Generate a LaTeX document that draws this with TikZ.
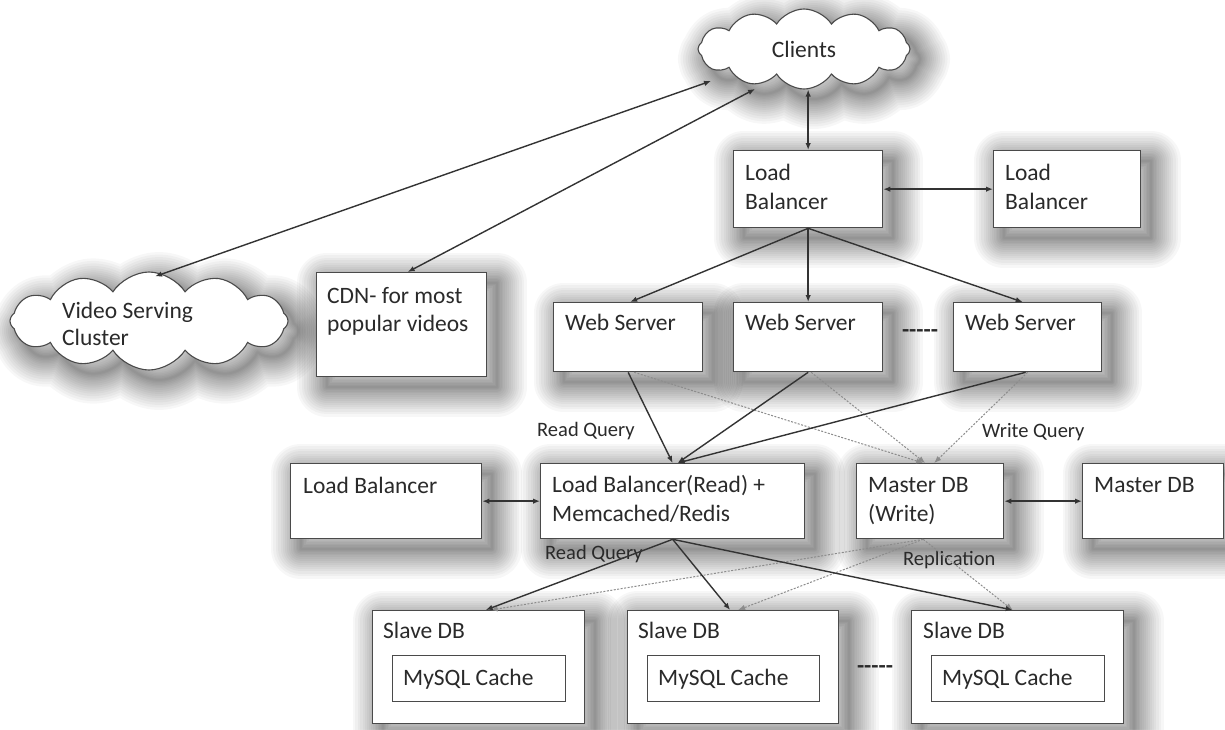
\documentclass[tikz,border=0pt]{standalone}
\usepackage{fontspec}
\setmainfont{Carlito}
\usetikzlibrary{arrows.meta,shapes.symbols,calc}
\definecolor{linec}{HTML}{333333}
\definecolor{boxc}{HTML}{4A4A4A}
\definecolor{dotc}{HTML}{8C8C8C}
\definecolor{txtc}{HTML}{2A2A2A}
\begin{document}
\begin{tikzpicture}[x=1pt,y=-1pt,
  sh/.style={preaction={draw=black,line join=round,opacity=0.032,line width=#1,transform canvas={shift={(10,10)}}}},
  softshadow/.style={sh=60pt,sh=55pt,sh=50pt,sh=45pt,sh=40pt,sh=36pt,sh=32pt,sh=28pt,sh=24pt,sh=20pt,sh=16pt,sh=13pt,sh=10pt,sh=7pt,sh=4pt,sh=2pt},
  box/.style={draw=boxc,line width=1.3pt,fill=white,rectangle,inner sep=0pt,anchor=north west,softshadow},
  inbox/.style={draw=boxc,line width=1.3pt,fill=white,rectangle,inner sep=0pt,anchor=north west},
  cloudnode/.style={cloud,cloud puffs=12,cloud puff arc=115,cloud ignores aspect,draw=boxc,line width=1.1pt,fill=white,inner sep=0pt,softshadow},
  txt/.style={font=\fontsize{23.5}{29}\selectfont,text=txtc,inner sep=0pt,anchor=base west},
  lbl/.style={font=\fontsize{20.5}{25}\selectfont,text=txtc,inner sep=0pt,anchor=base west},
  arr/.style={draw=linec,line width=1.4pt,-{Latex[length=7pt,width=5.5pt]}},
  dbl/.style={draw=linec,line width=1.4pt,{Latex[length=7pt,width=5.5pt]}-{Latex[length=7pt,width=5.5pt]}},
  dotarr/.style={draw=dotc,line width=1pt,dash pattern=on 2pt off 1.5pt,-{Latex[length=7pt,width=5.5pt]}},
]
\useasboundingbox[fill=white] (0,0) rectangle (1225,729);

% clouds
\node[cloudnode,minimum width=212pt,minimum height=80pt] (clients) at (804,49) {\fontsize{23.5}{29}\selectfont\color{txtc}Clients};
\node[cloudnode,minimum width=278pt,minimum height=98pt] (video) at (149,321) {};
\node[txt] (videoa) at (62,318) {Video Serving};
\node[txt] (videob) at (62,345) {Cluster};

% CDN
\node[box,minimum width=170pt,minimum height=104pt] (cdn) at (316,272) {};
\node[txt] (cdna) at (327,303) {CDN- for most};
\node[txt] (cdnb) at (327,331) {popular videos};

% top load balancers
\node[box,minimum width=149pt,minimum height=77pt] (lb1) at (733,150) {};
\node[txt] (lb1a) at (745,180) {Load};
\node[txt] (lb1b) at (745,209) {Balancer};
\node[box,minimum width=147pt,minimum height=77pt] (lb2) at (993,150) {};
\node[txt] (lb2a) at (1005,180) {Load};
\node[txt] (lb2b) at (1005,209) {Balancer};

% web servers
\node[box,minimum width=149pt,minimum height=69pt] (ws1) at (553,302) {};
\node[txt] (ws1t) at (565,330) {Web Server};
\node[box,minimum width=149pt,minimum height=69pt] (ws2) at (733,302) {};
\node[txt] (ws2t) at (745,330) {Web Server};
\node[box,minimum width=148pt,minimum height=69pt] (ws3) at (953,302) {};
\node[txt] (ws3t) at (965,330) {Web Server};
\node[txt,anchor=base,font=\fontsize{23.5}{29}\selectfont\bfseries] (wsdots) at (920,337) {-{}-{}-{}-{}-};

% middle row
\node[box,minimum width=191pt,minimum height=75pt] (lbl) at (290,463) {};
\node[txt] (lblt) at (303,493) {Load Balancer};
\node[box,minimum width=264pt,minimum height=75pt] (lbr) at (540,463) {};
\node[txt] (lbra) at (552,492) {Load Balancer(Read) +};
\node[txt] (lbrb) at (552,521) {Memcached/Redis};
\node[box,minimum width=147pt,minimum height=75pt] (mw) at (856,463) {};
\node[txt] (mwa) at (868,492) {Master DB};
\node[txt] (mwb) at (868,521) {(Write)};
\node[box,minimum width=141pt,minimum height=75pt] (mr) at (1082,463) {};
\node[txt] (mrt) at (1094,492) {Master DB};

% slaves
\node[box,minimum width=212pt,minimum height=113pt] (s1) at (372,610) {};
\node[txt] (s1t) at (383,638) {Slave DB};
\node[inbox,minimum width=173pt,minimum height=46pt] (c1) at (392,655) {};
\node[txt] (c1t) at (403,685) {MySQL Cache};
\node[box,minimum width=211pt,minimum height=113pt] (s2) at (627,610) {};
\node[txt] (s2t) at (638,638) {Slave DB};
\node[inbox,minimum width=172pt,minimum height=46pt] (c2) at (647,655) {};
\node[txt] (c2t) at (658,685) {MySQL Cache};
\node[box,minimum width=212pt,minimum height=113pt] (s3) at (911,610) {};
\node[txt] (s3t) at (923,638) {Slave DB};
\node[inbox,minimum width=173pt,minimum height=46pt] (c3) at (931,655) {};
\node[txt] (c3t) at (942,685) {MySQL Cache};
\node[txt,anchor=base,font=\fontsize{23.5}{29}\selectfont\bfseries] (sdots) at (875,673) {-{}-{}-{}-{}-};

% labels
\node[lbl] (rq1) at (537,436) {Read Query};
\node[lbl] (wq) at (982,437) {Write Query};
\node[lbl] (rq2) at (545,559) {Read Query};
\node[lbl] (repl) at (903,565) {Replication};

% top connectors
\draw[dbl] ([shift={(6,5)}]video.north) -- ([shift={(-93,32)}]clients.center);
\draw[dbl] ([xshift=6pt]cdn.north) -- ([shift={(-49,40)}]clients.center);
\draw[dbl] (lb1.north) -- (lb1.north |- clients.south);
\draw[dbl] (lb1.east) -- (lb2.west);
\draw[arr] (lb1.south) -- ([xshift=2pt]ws1.north);
\draw[arr] (lb1.south) -- (ws2.north);
\draw[arr] (lb1.south) -- ([xshift=-5pt]ws3.north);

% web servers to data layer
\draw[dotarr] ([xshift=6pt]ws1.south) -- ([xshift=-7pt]mw.north);
\draw[dotarr] ([xshift=3pt]ws2.south) -- ([xshift=-5pt]mw.north);
\draw[dotarr] (ws3.south) -- ([xshift=4pt]mw.north);
\draw[arr] (ws1.south) -- (lbr.north);
\draw[arr] (ws2.south) -- ([xshift=5pt]lbr.north);
\draw[arr] ([xshift=-2pt]ws3.south) -- ([xshift=5pt]lbr.north);
\draw[dbl] (lbl.east) -- (lbr.west);
\draw[dbl] (mw.east) -- (mr.west);

% data layer to slaves
\draw[dotarr] ([xshift=-7pt]mw.south) -- ([xshift=12pt]s1.north);
\draw[dotarr] ([xshift=-7pt]mw.south) -- ([xshift=5pt]s2.north);
\draw[dotarr] ([xshift=-7pt]mw.south) -- ([xshift=-5pt]s3.north);
\draw[arr] (lbr.south) -- ([xshift=7pt]s1.north);
\draw[arr] (lbr.south) -- ([xshift=-3pt]s2.north);
\draw[arr] (lbr.south) -- ([xshift=-5pt]s3.north);
\end{tikzpicture}
\end{document}
